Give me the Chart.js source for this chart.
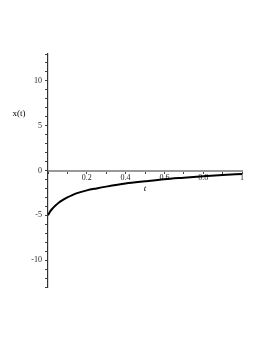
<!DOCTYPE html>
<html><head><meta charset="utf-8">
<script src="https://cdn.jsdelivr.net/npm/chart.js@4/dist/chart.umd.min.js"></script>
<style>html,body{margin:0;padding:0;background:#fff}#w{width:264px;height:341px}</style>
</head><body><div id="w"><canvas id="c" width="264" height="341"></canvas></div>
<script>
const tValues = [0, 0.01, 0.025, 0.04, 0.055, 0.075, 0.1, 0.125, 0.15, 0.2, 0.25, 0.3, 0.4, 0.5, 0.6, 0.7, 0.8, 0.9, 1.0];
const xValues = [-5, -4.6, -4.2, -3.88, -3.6, -3.3, -3.0, -2.74, -2.52, -2.22, -2.0, -1.8, -1.45, -1.2, -0.97, -0.8, -0.64, -0.5, -0.38];
const xTickLabels = ["0.2", "0.4", "0.6", "0.8", "1"];
const yTickLabels = ["-10", "-5", "0", "5", "10"];
const xTitle = "t";
const yTitle = "x(t)";

const pts = tValues.map((t, i) => ({x: t, y: xValues[i]}));
const serif = "'Liberation Serif', 'DejaVu Serif', serif";

const labelsPlugin = {
  id: 'labels',
  afterDraw(chart) {
    const ctx = chart.ctx;
    const xs = chart.scales.x, ys = chart.scales.y;
    ctx.save();
    ctx.fillStyle = '#000';
    ctx.textAlign = 'center';
    ctx.textBaseline = 'middle';
    ctx.font = "italic 9px " + serif;
    ctx.fillText(xTitle, xs.getPixelForValue(0.5), ys.getPixelForValue(0) + 18);
    ctx.font = "9px " + serif;
    ctx.fillText(yTitle, 19, ys.getPixelForValue(6.3));
    ctx.restore();
  }
};

new Chart(document.getElementById('c'), {
  type: 'scatter',
  data: { datasets: [{ data: pts, showLine: true, borderColor: '#000', borderWidth: 2,
    pointRadius: 0, cubicInterpolationMode: 'monotone', fill: false }] },
  options: {
    responsive: false, animation: false,
    layout: { padding: { left: 0, right: 22, top: 54, bottom: 54 } },
    plugins: { legend: { display: false }, tooltip: { enabled: false } },
    scales: {
      x: {
        type: 'linear', min: 0, max: 1,
        position: { y: 0 },
        border: { color: '#999', width: 2 },
        grid: { drawOnChartArea: false, tickLength: 2, color: '#444' },
        ticks: {
          stepSize: 0.1, autoSkip: false, maxRotation: 0, padding: 1,
          color: '#222', font: { family: serif, size: 8 },
          callback: (v) => { const s = String(Math.round(v * 10) / 10); return xTickLabels.includes(s) ? s : ''; }
        }
      },
      y: {
        type: 'linear', min: -13, max: 13,
        position: 'left',
        border: { color: '#333', width: 1.2 },
        grid: { drawOnChartArea: false, tickLength: 3, color: '#444' },
        afterFit: (s) => { s.width = 48; },
        ticks: {
          stepSize: 1, autoSkip: false, padding: 3,
          color: '#222', font: { family: serif, size: 8 },
          callback: (v) => { const s = String(v); return yTickLabels.includes(s) ? s : ''; }
        }
      }
    }
  },
  plugins: [labelsPlugin]
});
</script></body></html>
